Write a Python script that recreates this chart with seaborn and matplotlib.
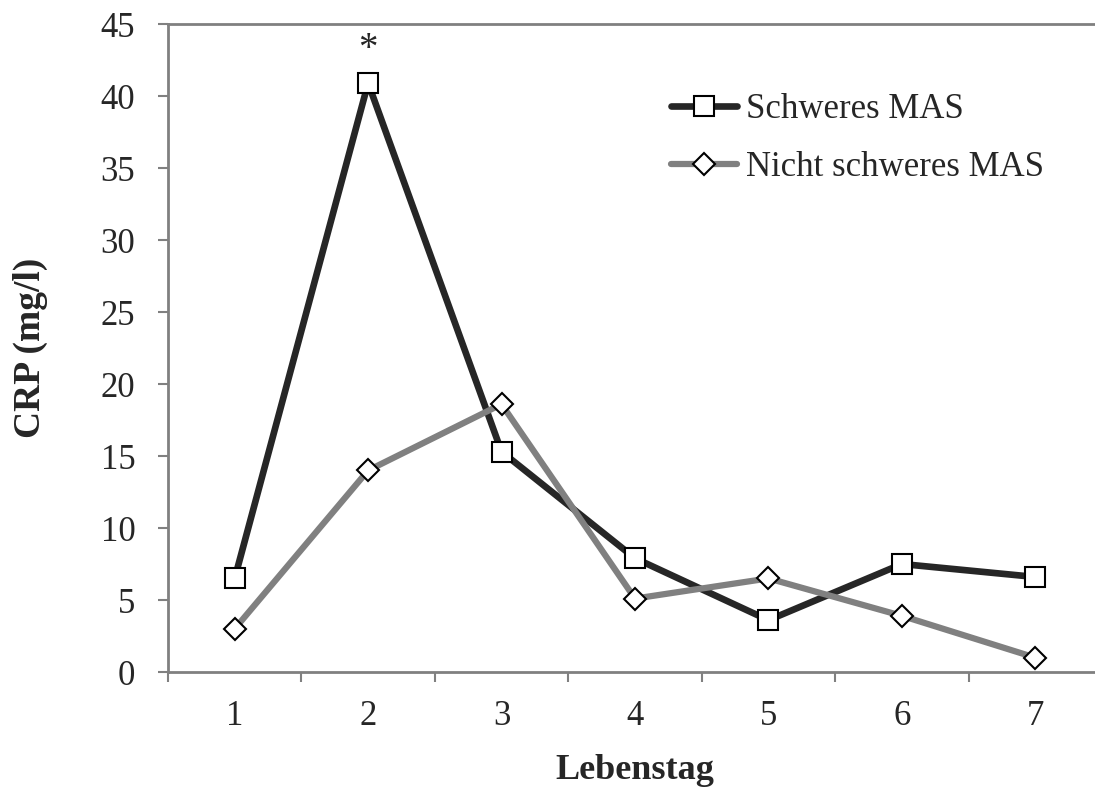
import pandas as pd
import matplotlib.pyplot as plt
import seaborn as sns

# Data
days = [1, 2, 3, 4, 5, 6, 7]
crp_schwer = [6.5, 40.9, 15.3, 7.9, 3.6, 7.5, 6.6]
crp_nicht = [3.0, 14.0, 18.6, 5.1, 6.5, 3.9, 1.0]
series_names = ["Schweres MAS", "Nicht schweres MAS"]
y_ticks = [0, 5, 10, 15, 20, 25, 30, 35, 40, 45]

sns.set_style("white")
plt.rcParams['font.family'] = ['Liberation Serif', 'DejaVu Serif']

df_schwer = pd.DataFrame({"Lebenstag": days, "CRP": crp_schwer})
df_nicht = pd.DataFrame({"Lebenstag": days, "CRP": crp_nicht})

fig = plt.figure(figsize=(10.95, 7.87), dpi=100)
ax = fig.add_axes([0.1534, 0.1461, 0.853, 0.8234])

sns.lineplot(data=df_schwer, x="Lebenstag", y="CRP", ax=ax, color="#262626",
             linewidth=4.8, marker="s", markersize=15, markerfacecolor="white",
             markeredgecolor="black", markeredgewidth=1.5, label=series_names[0])
sns.lineplot(data=df_nicht, x="Lebenstag", y="CRP", ax=ax, color="#808080",
             linewidth=4.5, marker="D", markersize=11.5, markerfacecolor="white",
             markeredgecolor="black", markeredgewidth=1.5, label=series_names[1])

# significance marker
ax.text(2, 43.2, "*", ha="center", va="center", fontsize=28)

ax.set_xlim(0.5, 7.5)
ax.set_ylim(0, 45)
ax.set_yticks(y_ticks)
ax.set_xticks(days)
ax.set_xticks([d + 0.5 for d in [0] + days], minor=True)
ax.tick_params(axis="x", which="major", length=0, pad=20, labelsize=25)
ax.tick_params(axis="x", which="minor", length=7.5, width=1.5, color="#808080", direction="out")
ax.tick_params(axis="y", length=7.5, width=1.5, color="#808080", direction="out", pad=16, labelsize=25)
ax.tick_params(bottom=True, left=True, which="both")

for side in ["left", "bottom", "top"]:
    ax.spines[side].set_color("#808080")
    ax.spines[side].set_linewidth(2)
ax.spines["right"].set_visible(False)

ax.set_xlabel("Lebenstag", fontsize=26, fontweight="bold", labelpad=15)
ax.set_ylabel("CRP (mg/l)", fontsize=27, fontweight="bold", labelpad=38)

leg = ax.legend(loc="upper left", bbox_to_anchor=(0.505, 0.942), frameon=False,
                fontsize=25, handlelength=1.9, handletextpad=0.25, labelspacing=0.72)

fig.savefig("out.png", dpi=100)
